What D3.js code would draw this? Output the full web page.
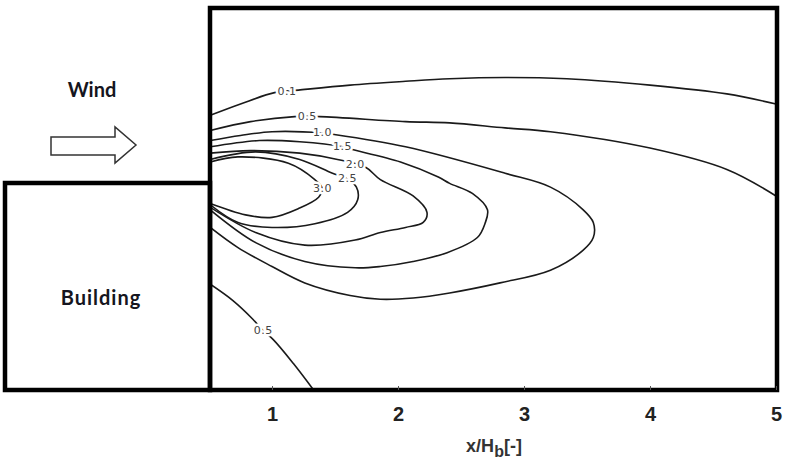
<!DOCTYPE html>
<html>
<head>
<meta charset="utf-8">
<script src="https://cdn.jsdelivr.net/npm/d3@7"></script>
<style>
  html, body { margin: 0; padding: 0; background: #fff; }
  svg { display: block; }
</style>
</head>
<body>
<svg id="chart" width="788" height="463"></svg>
<script>
// ---- data (x/Hb, z/Hb) ----
const xTicks = [1, 2, 3, 4, 5];
const c01 = [[0.51,2.18],[0.75,2.27],[1.02,2.36],[1.21,2.38],[1.62,2.42],[2.06,2.45],[2.41,2.47],[2.85,2.48],[3.34,2.47],[4.0,2.42],[4.61,2.35],[5.0,2.27]];
const c05 = [[0.51,2.06],[0.83,2.13],[1.18,2.17],[1.38,2.17],[2.06,2.13],[2.41,2.12],[2.85,2.08],[3.21,2.05],[4.0,1.92],[4.61,1.75],[5.0,1.54]];
const c10 = [[0.51,1.98],[0.75,2.02],[1.0,2.05],[1.40,2.04],[1.48,2.03],[2.06,1.93],[2.85,1.72],[3.21,1.61],[3.47,1.43],[3.55,1.33],[3.55,1.21],[3.47,1.11],[3.21,0.95],[2.81,0.85],[2.41,0.77],[2.12,0.73],[1.86,0.72],[1.62,0.75],[1.26,0.85],[1.0,0.98],[0.73,1.13],[0.51,1.29]];
const c15 = [[0.51,1.93],[0.90,1.98],[1.22,1.97],[1.56,1.93],[1.63,1.91],[2.02,1.81],[2.32,1.69],[2.41,1.64],[2.59,1.56],[2.71,1.43],[2.69,1.32],[2.63,1.21],[2.39,1.09],[2.12,1.02],[1.86,0.98],[1.66,0.97],[1.26,1.02],[0.87,1.17],[0.51,1.43]];
const c20 = [[0.51,1.88],[0.83,1.90],[1.22,1.88],[1.52,1.83],[1.74,1.77],[1.86,1.67],[2.12,1.54],[2.23,1.41],[2.20,1.33],[2.06,1.29],[1.86,1.25],[1.66,1.19],[1.26,1.15],[0.87,1.25],[0.51,1.45]];
const c25 = [[0.51,1.83],[0.87,1.89],[1.22,1.83],[1.48,1.72],[1.59,1.68],[1.67,1.61],[1.68,1.51],[1.60,1.41],[1.34,1.32],[1.0,1.29],[0.73,1.33],[0.51,1.47]];
const c30 = [[0.51,1.81],[0.73,1.85],[1.13,1.80],[1.34,1.67],[1.40,1.60],[1.37,1.53],[1.21,1.44],[1.0,1.37],[0.79,1.39],[0.51,1.48]];
const c05low = [[0.51,0.84],[0.69,0.71],[0.85,0.56],[0.93,0.47],[1.01,0.40],[1.17,0.21],[1.33,0.0]];
const contourLabels = ["0.1","0.5","1.0","1.5","2.0","2.5","3.0","0.5"];
const labelX = [1.12, 1.28, 1.40, 1.56, 1.66, 1.60, 1.40, 0.93];
const labelY = [2.37, 2.17, 2.04, 1.93, 1.79, 1.68, 1.60, 0.47];

// ---- layout ----
const svg = d3.select("#chart");
const plotL = 210, plotR = 777, plotT = 8, plotB = 390;
const x = d3.scaleLinear().domain([1, 5]).range([272, 776]);
const y = d3.scaleLinear().domain([0, 1]).range([plotB, plotB - 126]);

svg.append("defs").append("clipPath").attr("id", "clip")
  .append("rect").attr("x", plotL).attr("y", plotT)
  .attr("width", plotR - plotL).attr("height", plotB - plotT);

// contours
const line = d3.line().x(d => x(d[0])).y(d => y(d[1])).curve(d3.curveCatmullRom.alpha(0.5));
const gC = svg.append("g").attr("clip-path", "url(#clip)");
[c01, c05, c10, c15, c20, c25, c30, c05low].forEach(c => {
  gC.append("path").attr("d", line(c))
    .attr("fill", "none").attr("stroke", "#1a1a1a").attr("stroke-width", 1.6)
    .attr("stroke-linejoin", "round");
});

// contour labels
svg.append("g").selectAll("text").data(contourLabels).join("text")
  .attr("x", (d, i) => x(labelX[i])).attr("y", (d, i) => y(labelY[i]))
  .attr("text-anchor", "middle").attr("dominant-baseline", "central")
  .attr("font-family", "DejaVu Sans, sans-serif").attr("font-size", 11)
  .attr("letter-spacing", 0.5)
  .attr("fill", "#444").attr("stroke", "#fff").attr("stroke-width", 5)
  .attr("stroke-linejoin", "round")
  .attr("paint-order", "stroke")
  .text(d => d);

// frames
svg.append("rect").attr("x", plotL).attr("y", plotT)
  .attr("width", plotR - plotL).attr("height", plotB - plotT)
  .attr("fill", "none").attr("stroke", "#000").attr("stroke-width", 4.5);
svg.append("rect").attr("x", 5).attr("y", 183)
  .attr("width", plotL - 5).attr("height", plotB - 183)
  .attr("fill", "none").attr("stroke", "#000").attr("stroke-width", 4.5);

// x axis
const axis = d3.axisBottom(x).tickValues(xTicks).tickFormat(d3.format("d"))
  .tickSizeInner(-4).tickSizeOuter(0).tickPadding(17);
const gA = svg.append("g").attr("transform", `translate(0,${plotB})`).call(axis);
gA.select(".domain").remove();
gA.selectAll(".tick line").attr("stroke", "#555").attr("stroke-width", 1);
gA.selectAll(".tick text").attr("font-family", "Liberation Sans, Arial, sans-serif")
  .attr("font-weight", "bold").attr("font-size", 20).attr("fill", "#222");

// axis title
const t = svg.append("text").attr("x", 494).attr("y", 452).attr("text-anchor", "middle")
  .attr("font-family", "Liberation Sans, Arial, sans-serif").attr("font-weight", "bold")
  .attr("font-size", 18).attr("fill", "#333");
t.append("tspan").text("x/H");
t.append("tspan").attr("dy", 5).attr("font-size", 16).text("b");
t.append("tspan").attr("dy", -5).text("[-]");

// wind label & arrow
svg.append("text").attr("x", 92).attr("y", 97).attr("text-anchor", "middle")
  .attr("font-family", "Lato, sans-serif").attr("font-weight", "bold")
  .attr("font-size", 20).attr("fill", "#151520").text("Wind");
svg.append("path")
  .attr("d", "M51,137 L115,137 L115,127 L136,145 L115,163 L115,155 L51,155 Z")
  .attr("fill", "#fff").attr("stroke", "#333").attr("stroke-width", 1.5);

// building label
svg.append("text").attr("x", 101).attr("y", 305).attr("text-anchor", "middle")
  .attr("font-family", "Lato, sans-serif").attr("font-weight", "bold")
  .attr("font-size", 20).attr("letter-spacing", 1).attr("fill", "#151520").text("Building");
</script>
</body>
</html>
